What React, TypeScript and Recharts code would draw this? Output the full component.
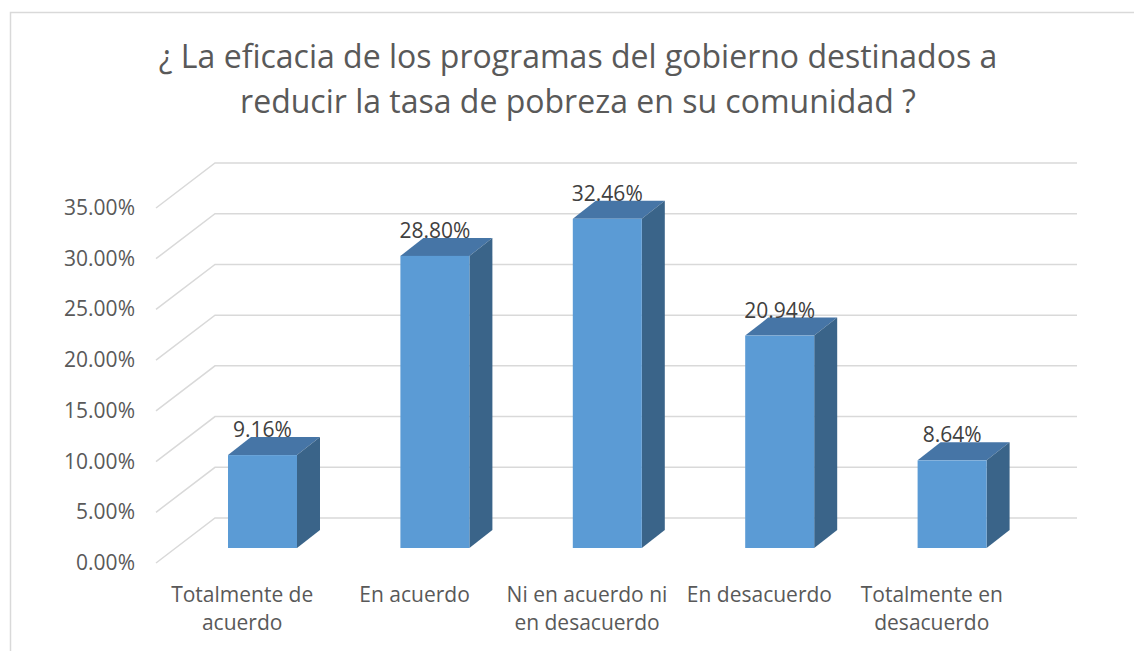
import { BarChart, Bar, XAxis, YAxis, CartesianGrid, LabelList } from "recharts"

const categories = [
  "Totalmente de acuerdo",
  "En acuerdo",
  "Ni en acuerdo ni en desacuerdo",
  "En desacuerdo",
  "Totalmente en desacuerdo",
]
const percentages = [9.16, 28.8, 32.46, 20.94, 8.64]
const yTicks = [0, 5, 10, 15, 20, 25, 30, 35]
const titleLines = [
  "¿ La eficacia de los programas del gobierno destinados a",
  "reducir la tasa de pobreza en su comunidad ?",
]

const data = categories.map((name, i) => ({ name, value: percentages[i] }))

const FONT = "'Open Sans', sans-serif"
const GRID = "#D9D9D9"
// bar depth offset and floor offsets (relative to the bars' front plane)
const DX = 23
const DY = 18
const FRONT = { dx: -20, dy: 15 }
const BACK = { dx: 39, dy: -30 }

// wrap a category name into lines of at most n chars
const wrap = (s: string, n = 16) => {
  const lines: string[] = []
  let cur = ""
  s.split(" ").forEach((w) => {
    const next = cur ? cur + " " + w : w
    if (next.length > n && cur) {
      lines.push(cur)
      cur = w
    } else cur = next
  })
  if (cur) lines.push(cur)
  return lines
}

const GridLine = (p: any) => {
  const y = p.y1
  return (
    <polyline
      key={p.key}
      points={`${p.x1 + FRONT.dx},${y + FRONT.dy} ${p.x1 + BACK.dx},${y + BACK.dy} ${p.x2 + BACK.dx},${y + BACK.dy}`}
      fill="none"
      stroke={GRID}
      strokeWidth={1.5}
    />
  )
}

const YTick = ({ x, y, payload }: any) => (
  <text x={x - 41} y={y + FRONT.dy} dy={7} textAnchor="end" fill="#595959" fontSize={21} fontFamily={FONT}>
    {Number(payload.value).toFixed(2)}%
  </text>
)

const XTick = ({ x, y, payload }: any) => (
  <text textAnchor="middle" fill="#595959" fontSize={21} fontFamily={FONT}>
    {wrap(payload.value).map((l, i) => (
      <tspan key={i} x={x + FRONT.dx} y={y + 54 + i * 28}>
        {l}
      </tspan>
    ))}
  </text>
)

const Bar3D = ({ x, y, width, height }: any) => (
  <g>
    <polygon
      points={`${x},${y} ${x + DX},${y - DY} ${x + width + DX},${y - DY} ${x + width},${y}`}
      fill="#4675A6"
    />
    <polygon
      points={`${x + width},${y} ${x + width + DX},${y - DY} ${x + width + DX},${y + height - DY} ${x + width},${y + height}`}
      fill="#3A6489"
    />
    <rect x={x} y={y} width={width} height={height} fill="#5B9BD5" />
  </g>
)

const ValueLabel = ({ x, y, width, value }: any) => (
  <text x={x + width / 2} y={y - 18} textAnchor="middle" fill="#404040" fontSize={21} fontFamily={FONT}>
    {Number(value).toFixed(2)}%
  </text>
)

export default function App() {
  return (
    <div style={{ position: "absolute", left: 0, top: 0, width: 1134, height: 651, background: "#fff" }}>
      <svg width={1134} height={651} style={{ position: "absolute", left: 0, top: 0 }}>
        <rect x={10.5} y={12.5} width={1140} height={660} fill="none" stroke={GRID} strokeWidth={1.5} />
        <text textAnchor="middle" fill="#595959" fontSize={32} fontFamily={FONT}>
          {titleLines.map((l, i) => (
            <tspan key={i} x={578} y={68 + i * 45}>
              {l}
            </tspan>
          ))}
        </text>
      </svg>
      <div style={{ position: "absolute", left: 0, top: 0 }}>
        <BarChart
          width={1134}
          height={651}
          data={data}
          margin={{ top: 193, right: 96, bottom: 0, left: 116 }}
          barSize={69}
        >
          <CartesianGrid vertical={false} horizontal={GridLine} />
          <XAxis
            dataKey="name"
            height={103}
            axisLine={false}
            tickLine={false}
            tickSize={0}
            tickMargin={0}
            interval={0}
            tick={<XTick />}
          />
          <YAxis
            width={60}
            type="number"
            domain={[0, 35]}
            ticks={yTicks}
            axisLine={false}
            tickLine={false}
            tickSize={0}
            tickMargin={0}
            tick={<YTick />}
          />
          <Bar dataKey="value" shape={<Bar3D />} isAnimationActive={false}>
            <LabelList dataKey="value" content={<ValueLabel />} />
          </Bar>
        </BarChart>
      </div>
    </div>
  )
}
